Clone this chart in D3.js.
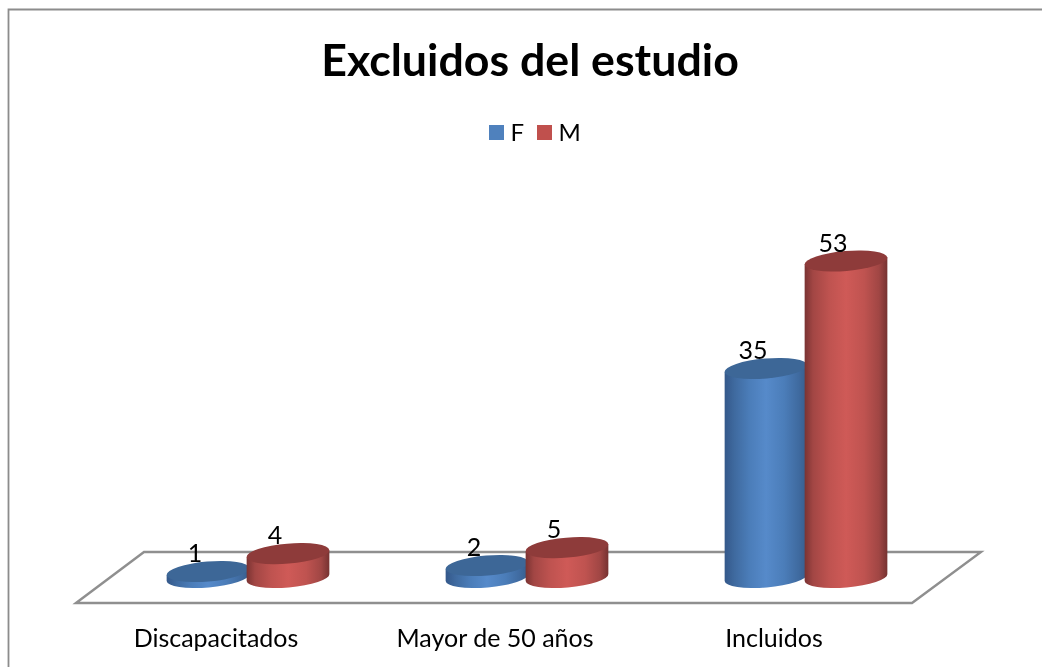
<!DOCTYPE html>
<html><head><meta charset="utf-8">
<script src="https://cdn.jsdelivr.net/npm/d3@7"></script>
<style>html,body{margin:0;padding:0;background:#fff}svg{display:block;filter:blur(0.35px)}text{font-family:Lato,"Open Sans",sans-serif;fill:#000}</style>
</head><body><div id="chart"></div>
<script>
const categories = ["Discapacitados", "Mayor de 50 años", "Incluidos"];
const seriesNames = ["F", "M"];
const valuesF = [1, 2, 35];
const valuesM = [4, 5, 53];
const titleText = "Excluidos del estudio";

const W = 1042, H = 667;
const svg = d3.select("#chart").append("svg").attr("width", W).attr("height", H);
const defs = svg.append("defs");

const x0 = d3.scaleBand().domain(categories).range([108.5, 945.5]).paddingInner(0).paddingOuter(0);
const x1 = d3.scaleBand().domain(seriesNames).range([-80, 80]);
const y = d3.scaleLinear().domain([0, 53]).range([577.5, 261]);
const color = d3.scaleOrdinal().domain(seriesNames).range(["#4f81bd", "#c0504d"]);
const topColor = d3.scaleOrdinal().domain(seriesNames).range(["#3d6797", "#8e3b3a"]);

const stops = {
  F: [[0,"#34588a"],[.12,"#3f6a9f"],[.3,"#4b7db9"],[.5,"#568aca"],[.72,"#4b7db9"],[.9,"#3f6a9f"],[1,"#375d8b"]],
  M: [[0,"#7a3332"],[.1,"#a24644"],[.3,"#bf5350"],[.5,"#cf5a57"],[.72,"#bf5350"],[.9,"#a04644"],[1,"#763231"]]
};
seriesNames.forEach(s => {
  const g = defs.append("linearGradient").attr("id", "grad" + s);
  stops[s].forEach(d => g.append("stop").attr("offset", d[0]).attr("stop-color", d[1]));
});

// chart frame
svg.append("path").attr("d", `M8.5,${H+4} V9.5 H${W+4}`).attr("fill", "none").attr("stroke", "#8c8c8c").attr("stroke-width", 1.8);

// title
svg.append("text").attr("x", 530).attr("y", 76).attr("text-anchor", "middle")
  .attr("font-size", 44.7).attr("font-weight", 700).text(titleText);

// legend
const legendX = d3.scaleOrdinal().domain(seriesNames).range([489, 537]);
const legend = svg.append("g").selectAll("g").data(seriesNames).join("g")
  .attr("transform", d => `translate(${legendX(d)},125)`);
legend.append("rect").attr("width", 15).attr("height", 15).attr("fill", d => color(d));
legend.append("text").attr("x", 21.5).attr("y", 15.5).attr("font-size", 24).text(d => d);

// floor
svg.append("path").attr("d", "M76,603 L144,552 H981 L912,603 Z")
  .attr("fill", "none").attr("stroke", "#8f8f8f").attr("stroke-width", 2.4);

// cylinders
const rx = 41.5, ry = 10, tilt = Math.atan2(-7, 83), tiltDeg = tilt * 180 / Math.PI;
const dx = rx * Math.cos(tilt), dy = rx * Math.sin(tilt);
const data = [];
categories.forEach((c, i) => {
  data.push({c, s: "F", v: valuesF[i]});
  data.push({c, s: "M", v: valuesM[i]});
});
const cx = d => x0(d.c) + x0.bandwidth() / 2 + x1(d.s) + x1.bandwidth() / 2;

const bars = svg.append("g").selectAll("g").data(data).join("g");
bars.append("path").attr("fill", d => `url(#grad${d.s})`).attr("d", d => {
  const c = cx(d), t = y(d.v), b = y(0);
  return `M${c-dx},${t-dy} L${c-dx},${b-dy} A${rx},${ry} ${tiltDeg} 0 0 ${c+dx},${b+dy} L${c+dx},${t+dy} Z`;
});
bars.append("ellipse").attr("rx", rx).attr("ry", ry).attr("fill", d => topColor(d.s))
  .attr("transform", d => `translate(${cx(d)},${y(d.v)}) rotate(${tiltDeg})`);

// value labels
svg.append("g").selectAll("text").data(data).join("text")
  .attr("x", d => cx(d) - 13).attr("y", d => y(d.v) - 9.5)
  .attr("text-anchor", "middle").attr("font-size", 25).text(d => d.v);

// category axis labels
svg.append("g").selectAll("text").data(categories).join("text")
  .attr("x", d => x0(d) + x0.bandwidth() / 2 - 32).attr("y", 647)
  .attr("text-anchor", "middle").attr("font-size", 25).text(d => d);
</script></body></html>
